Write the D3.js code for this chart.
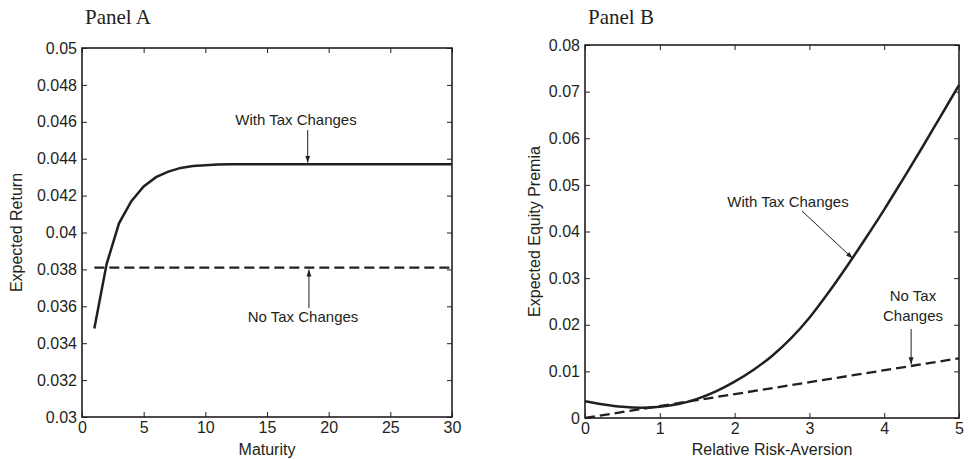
<!DOCTYPE html>
<html><head><meta charset="utf-8">
<script src="https://cdn.jsdelivr.net/npm/d3@7"></script>
<style>
body{margin:0;background:#fff;}
svg{display:block;}
text{font-family:"Liberation Sans",Arial,Helvetica,sans-serif;fill:#231f20;}
.title{font-family:"Liberation Serif","Times New Roman",serif;}
</style></head><body>
<svg id="chart" width="969" height="459"></svg>
<script>
// ---------- Data ----------
// Panel A
const maturityWithTax = [1,2,3,4,5,6,7,8,9,10,11,12,14,16,18,20,22,24,26,28,30];
const returnWithTax   = [0.0348,0.0383,0.0405,0.0417,0.0425,0.0430,0.0433,0.0435,0.0436,0.04365,0.04368,0.0437,0.0437,0.0437,0.0437,0.0437,0.0437,0.0437,0.0437,0.0437,0.0437];
const maturityNoTax   = [1,30];
const returnNoTax     = [0.0381,0.0381];
const panelAXTicks = [0,5,10,15,20,25,30];
const panelAXTickLabels = ["0","5","10","15","20","25","30"];
const panelAYTicks = [0.03,0.032,0.034,0.036,0.038,0.04,0.042,0.044,0.046,0.048,0.05];
const panelAYTickLabels = ["0.03","0.032","0.034","0.036","0.038","0.04","0.042","0.044","0.046","0.048","0.05"];

// Panel B
const rraWithTax     = [0,0.25,0.5,0.75,1,1.25,1.5,1.75,2,2.25,2.5,2.75,3,3.25,3.5,3.75,4,4.25,4.5,4.75,5];
const premiaWithTax  = [0.0036,0.0029,0.0024,0.0022,0.0024,0.0030,0.0041,0.0057,0.0078,0.0103,0.0133,0.0170,0.0215,0.0268,0.0325,0.0385,0.0447,0.0512,0.0578,0.0646,0.0714];
const rraNoTax       = [0,5];
const premiaNoTax    = [0.0,0.0128];
const panelBXTicks = [0,1,2,3,4,5];
const panelBXTickLabels = ["0","1","2","3","4","5"];
const panelBYTicks = [0,0.01,0.02,0.03,0.04,0.05,0.06,0.07,0.08];
const panelBYTickLabels = ["0","0.01","0.02","0.03","0.04","0.05","0.06","0.07","0.08"];

const svg = d3.select("#chart");
const ink = "#231f20";

const defs = svg.append("defs");
defs.append("marker").attr("id","arr").attr("viewBox","0 0 10 10")
  .attr("refX",10).attr("refY",5).attr("markerWidth",7).attr("markerHeight",7)
  .attr("markerUnits","userSpaceOnUse").attr("orient","auto")
  .append("path").attr("d","M0,1.5 L10,5 L0,8.5 Z").attr("fill",ink);

function panel(cfg){
  const g = svg.append("g");
  const x = d3.scaleLinear().domain(cfg.xDomain).range([cfg.left,cfg.right]);
  const y = d3.scaleLinear().domain(cfg.yDomain).range([cfg.bottom,cfg.top]);
  const tk = 5;
  const bx = g.append("g").attr("transform",`translate(0,${cfg.bottom})`)
    .call(d3.axisBottom(x).tickValues(cfg.xTicks).tickSizeInner(-tk).tickSizeOuter(0).tickPadding(5)
      .tickFormat((d,i)=>cfg.xLabels[i]));
  const tx = g.append("g").attr("transform",`translate(0,${cfg.top})`)
    .call(d3.axisTop(x).tickValues(cfg.xTicks).tickSizeInner(-tk).tickSizeOuter(0).tickFormat(""));
  const ly = g.append("g").attr("transform",`translate(${cfg.left},0)`)
    .call(d3.axisLeft(y).tickValues(cfg.yTicks).tickSizeInner(-tk).tickSizeOuter(0).tickPadding(5)
      .tickFormat((d,i)=>cfg.yLabels[i]));
  const ry = g.append("g").attr("transform",`translate(${cfg.right},0)`)
    .call(d3.axisRight(y).tickValues(cfg.yTicks).tickSizeInner(-tk).tickSizeOuter(0).tickFormat(""));
  [bx,tx,ly,ry].forEach(a=>{
    a.select(".domain").remove();
    a.selectAll("line").attr("stroke",ink).attr("stroke-width",1);
    a.selectAll("text").attr("font-size",16).attr("font-family","Liberation Sans, Arial, sans-serif").attr("fill",ink);
  });
  g.append("rect").attr("x",cfg.left).attr("y",cfg.top)
    .attr("width",cfg.right-cfg.left).attr("height",cfg.bottom-cfg.top)
    .attr("fill","none").attr("stroke",ink).attr("stroke-width",1.6);

  const line = d3.line().x(d=>x(d[0])).y(d=>y(d[1]));
  g.append("path").datum(cfg.noX.map((v,i)=>[v,cfg.noY[i]]))
    .attr("d",line).attr("fill","none").attr("stroke",ink).attr("stroke-width",2.3)
    .attr("stroke-dasharray","10,5");
  g.append("path").datum(cfg.withX.map((v,i)=>[v,cfg.withY[i]]))
    .attr("d",line.curve(cfg.curve)).attr("fill","none").attr("stroke",ink).attr("stroke-width",2.5);

  g.append("text").attr("class","title").attr("x",cfg.left+3).attr("y",24)
    .attr("font-size",21).text(cfg.title);
  g.append("text").attr("x",(cfg.left+cfg.right)/2).attr("y",455)
    .attr("text-anchor","middle").attr("font-size",16).text(cfg.xLabel);
  g.append("text").attr("transform",`translate(${cfg.yLabelX},${(cfg.top+cfg.bottom)/2}) rotate(-90)`)
    .attr("text-anchor","middle").attr("font-size",16).text(cfg.yLabel);
  return {g,x,y};
}

// Panel A
const A = panel({left:82,right:452,top:48,bottom:417,xDomain:[0,30],yDomain:[0.03,0.05],
  xTicks:panelAXTicks,xLabels:panelAXTickLabels,yTicks:panelAYTicks,yLabels:panelAYTickLabels,
  withX:maturityWithTax,withY:returnWithTax,noX:maturityNoTax,noY:returnNoTax,curve:d3.curveLinear,
  title:"Panel A",xLabel:"Maturity",yLabel:"Expected Return",yLabelX:22});
A.g.append("text").attr("x",296).attr("y",125).attr("text-anchor","middle").attr("font-size",15).text("With Tax Changes");
A.g.append("line").attr("x1",A.x(18.3)).attr("x2",A.x(18.3)).attr("y1",130).attr("y2",A.y(0.0437)-1.5)
  .attr("stroke",ink).attr("stroke-width",1).attr("marker-end","url(#arr)");
A.g.append("text").attr("x",303).attr("y",322).attr("text-anchor","middle").attr("font-size",15).text("No Tax Changes");
A.g.append("line").attr("x1",A.x(18.4)).attr("x2",A.x(18.4)).attr("y1",308).attr("y2",A.y(0.0381)+2)
  .attr("stroke",ink).attr("stroke-width",1).attr("marker-end","url(#arr)");

// Panel B
const B = panel({left:585,right:959,top:45,bottom:418,xDomain:[0,5],yDomain:[0,0.08],
  xTicks:panelBXTicks,xLabels:panelBXTickLabels,yTicks:panelBYTicks,yLabels:panelBYTickLabels,
  withX:rraWithTax,withY:premiaWithTax,noX:rraNoTax,noY:premiaNoTax,curve:d3.curveMonotoneX,
  title:"Panel B",xLabel:"Relative Risk-Aversion",yLabel:"Expected Equity Premia",yLabelX:540});
B.g.append("text").attr("x",788).attr("y",207).attr("text-anchor","middle").attr("font-size",15).text("With Tax Changes");
B.g.append("line").attr("x1",802).attr("y1",211).attr("x2",B.x(3.58)).attr("y2",B.y(0.0342))
  .attr("stroke",ink).attr("stroke-width",1).attr("marker-end","url(#arr)");
B.g.append("text").attr("x",913).attr("y",301).attr("text-anchor","middle").attr("font-size",15).text("No Tax");
B.g.append("text").attr("x",913).attr("y",321).attr("text-anchor","middle").attr("font-size",15).text("Changes");
B.g.append("line").attr("x1",B.x(4.36)).attr("x2",B.x(4.36)).attr("y1",329).attr("y2",B.y(0.0113)-1)
  .attr("stroke",ink).attr("stroke-width",1).attr("marker-end","url(#arr)");
</script>
</body></html>
